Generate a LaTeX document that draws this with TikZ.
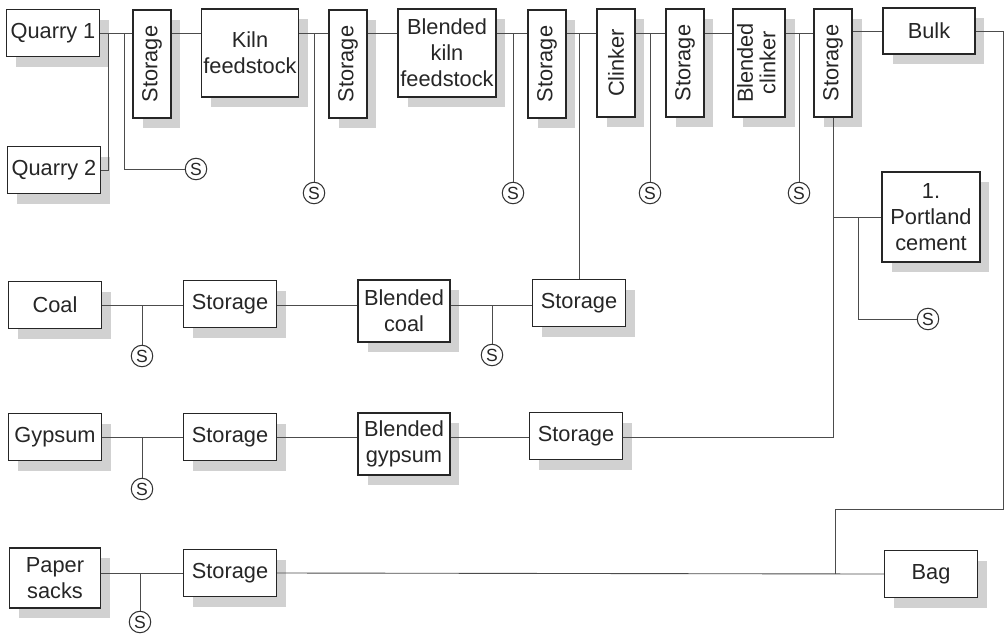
\documentclass[tikz,border=0pt]{standalone}
\usepackage{fontspec}
\setmainfont{Liberation Sans}
\usetikzlibrary{shadows}

\tikzset{
  unit/.style={draw=black!85, line width=0.8pt, fill=white, align=center,
    inner sep=1pt, text=black!85, font=\fontsize{12.4}{14.8}\selectfont,
    drop shadow={shadow xshift=0.19cm, shadow yshift=-0.2cm, fill=black!18, opacity=1}},
  wide/.style={unit, minimum width=1.86cm, minimum height=0.94cm},
  tall/.style={unit, minimum width=0.76cm, minimum height=2.16cm},
  sample/.style={circle, draw=black!80, line width=0.6pt, fill=white, inner sep=0pt,
    minimum size=0.43cm, text=black!85, font=\fontsize{10}{10}\selectfont},
  flow/.style={draw=black!70, line width=0.5pt}
}
\newcommand{\vtext}[1]{\rotatebox{90}{#1}}
\newcommand{\vtwo}[2]{\rotatebox{90}{\begin{tabular}{@{}c@{}}#1\\[-2pt]#2\end{tabular}}}

\begin{document}
\begin{tikzpicture}[x=0.02cm, y=-0.02cm]
  \useasboundingbox (0,0) rectangle (1005,637);

  % kiln line
  \node[wide] (q1) at (53,33) {Quarry 1};
  \node[wide] (q2) at (54,170) {Quarry 2};
  \node[tall] (st1) at (152,64) {\vtext{Storage}};
  \node[unit, minimum width=1.92cm, minimum height=1.76cm] (kiln) at (250,53) {Kiln\\feedstock};
  \node[tall] (st2) at (348,64) {\vtext{Storage}};
  \node[unit, minimum width=1.96cm, minimum height=1.76cm] (bkf) at (447,53) {Blended\\kiln\\feedstock};
  \node[tall] (st3) at (547,64) {\vtext{Storage}};
  \node[tall] (clk) at (616,63) {\vtext{Clinker}};
  \node[tall] (st4) at (685,63) {\vtext{Storage}};
  \node[unit, minimum width=0.96cm, minimum height=2.16cm] (bclk) at (759,63) {\vtwo{Blended}{clinker}};
  \node[tall] (st5) at (833,63) {\vtext{Storage}};
  \node[unit, minimum width=1.84cm, minimum height=0.92cm] (bulk) at (929,31) {Bulk};
  \node[unit, minimum width=1.96cm, minimum height=1.8cm] (pc) at (931,217) {1.\\Portland\\cement};

  % coal, gypsum, sacks
  \node[wide] (coal) at (55,305) {Coal};
  \node[wide] (cst1) at (230,304) {Storage};
  \node[unit, minimum width=1.84cm, minimum height=1.24cm] (bcoal) at (404,311) {Blended\\coal};
  \node[wide] (cst2) at (579,303) {Storage};
  \node[wide] (gyp) at (55,437) {Gypsum};
  \node[wide] (gst1) at (230,437) {Storage};
  \node[unit, minimum width=1.84cm, minimum height=1.24cm] (bgyp) at (404,444) {Blended\\gypsum};
  \node[wide] (gst2) at (576,436) {Storage};
  \node[unit, minimum width=1.82cm, minimum height=1.2cm] (paper) at (55,578) {Paper\\sacks};
  \node[wide] (pst) at (230,573) {Storage};
  \node[wide] (bag) at (931,574) {Bag};

  % sampling points
  \node[sample] (s1) at (196,169) {S};
  \node[sample] (s2) at (314,193) {S};
  \node[sample] (s3) at (513,193) {S};
  \node[sample] (s4) at (650,193) {S};
  \node[sample] (s5) at (799,193) {S};
  \node[sample] (s6) at (928,319) {S};
  \node[sample] (s7) at (142,356) {S};
  \node[sample] (s8) at (492,355) {S};
  \node[sample] (s9) at (142,489) {S};
  \node[sample] (s10) at (140,622) {S};

  \coordinate (j1) at (108,33);
  \coordinate (j2) at (124,33);
  \coordinate (j6) at (858,218);
  \coordinate (br) at (1003,509);
  \coordinate (bj) at (835,509);

  % top line
  \draw[flow] (q1.east) -- (st1.west |- q1.east);
  \draw[flow] (q2.east) -| (j1);
  \draw[flow] (j2) |- (s1);
  \draw[flow] (st1.east |- q1.east) -- (kiln.west |- q1.east);
  \draw[flow] (kiln.east |- q1.east) -- (st2.west |- q1.east);
  \draw[flow] (st2.east |- q1.east) -- (bkf.west |- q1.east);
  \draw[flow] (bkf.east |- q1.east) -- (st3.west |- q1.east);
  \draw[flow] (st3.east |- q1.east) -- (clk.west |- q1.east);
  \draw[flow] (clk.east |- q1.east) -- (st4.west |- q1.east);
  \draw[flow] (st4.east |- q1.east) -- (bclk.west |- q1.east);
  \draw[flow] (bclk.east |- q1.east) -- (st5.west |- q1.east);
  \draw[flow] (st5.east |- bulk.west) -- (bulk.west);
  \foreach \s in {s2,s3,s4,s5}
    \draw[flow] (\s.north) -- (\s.north |- q1.east);
  \draw[flow] (cst2.north) -- (cst2.north |- q1.east);

  % coal line
  \draw[flow] (coal.east) -- (cst1.west |- coal.east);
  \draw[flow] (cst1.east |- coal.east) -- (bcoal.west |- coal.east);
  \draw[flow] (bcoal.east |- coal.east) -- (cst2.west |- coal.east);
  \draw[flow] (s7.north) -- (s7.north |- coal.east);
  \draw[flow] (s8.north) -- (s8.north |- coal.east);

  % gypsum line
  \draw[flow] (gyp.east) -- (gst1.west |- gyp.east);
  \draw[flow] (gst1.east |- gyp.east) -- (bgyp.west |- gyp.east);
  \draw[flow] (bgyp.east |- gyp.east) -- (gst2.west |- gyp.east);
  \draw[flow] (s9.north) -- (s9.north |- gyp.east);
  \draw[flow] (gst2.east |- gyp.east) -- (st5.south |- gyp.east) -- (st5.south);
  \draw[flow] (st5.south |- pc.west) -- (pc.west);
  \draw[flow] (j6) |- (s6);

  % sacks and dispatch
  \draw[flow] (paper.east |- pst.west) -- (pst.west);
  \draw[flow] (s10.north) -- (s10.north |- pst.west);
  \draw[flow] (pst.east) -- (bag.west);
  \draw[flow] (bulk.east) -| (br) -- (bj) -- (bj |- bag.west);
\end{tikzpicture}
\end{document}
